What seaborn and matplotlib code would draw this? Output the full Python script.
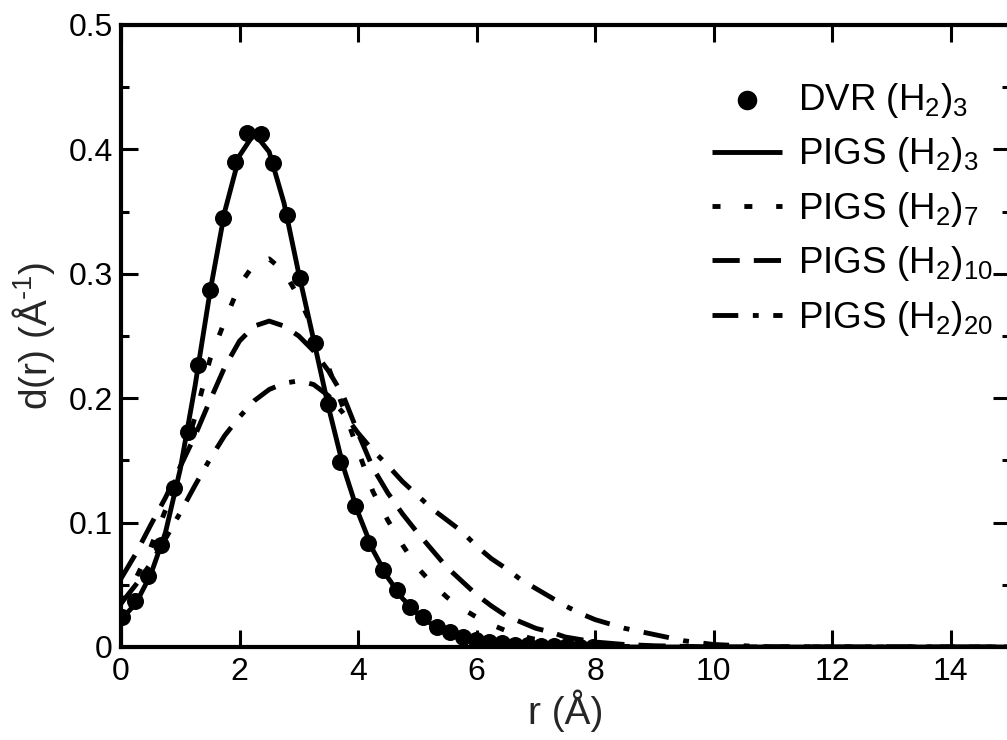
import matplotlib
matplotlib.use("Agg")
import matplotlib.pyplot as plt
from matplotlib.ticker import MultipleLocator, FixedLocator
import seaborn as sns

# DVR pair distribution for (H2)3
dvr_r = [0.02, 0.24, 0.46, 0.68, 0.90, 1.13, 1.30, 1.50, 1.72, 1.92, 2.12, 2.37,
         2.56, 2.80, 3.02, 3.27, 3.49, 3.69, 3.95, 4.17, 4.42, 4.65, 4.87, 5.09,
         5.33, 5.55, 5.77, 5.99, 6.21, 6.43, 6.65, 6.87, 7.09, 7.31, 7.53, 7.75, 7.97]
dvr_d = [0.024, 0.037, 0.057, 0.082, 0.128, 0.173, 0.227, 0.287, 0.345, 0.390, 0.413, 0.412,
         0.389, 0.347, 0.297, 0.244, 0.195, 0.149, 0.113, 0.084, 0.062, 0.046, 0.032, 0.024,
         0.016, 0.012, 0.008, 0.006, 0.004, 0.003, 0.002, 0.0015, 0.001, 0.0007, 0.0005, 0.0003, 0.0002]

# PIGS pair distributions on a common r grid (Angstrom)
r_grid = [0.0, 0.25, 0.5, 0.75, 1.0, 1.25, 1.5, 1.75, 2.0, 2.25, 2.5, 2.75, 3.0, 3.25,
          3.5, 3.75, 4.0, 4.25, 4.5, 4.75, 5.0, 5.25, 5.5, 5.75, 6.0, 6.25, 6.5, 6.75,
          7.0, 7.25, 7.5, 7.75, 8.0, 8.5, 9.0, 9.5, 10.0, 11.0, 12.0, 13.0, 14.0, 15.0]
pigs_3 = [0.022, 0.035, 0.058, 0.092, 0.143, 0.210, 0.285, 0.350, 0.395, 0.413, 0.398, 0.357,
          0.300, 0.247, 0.193, 0.145, 0.108, 0.078, 0.056, 0.039, 0.027, 0.018, 0.012, 0.008,
          0.005, 0.003, 0.002, 0.0015, 0.001, 0.0007, 0.0005, 0.0003, 0.0002, 0.0, 0.0, 0.0,
          0.0, 0.0, 0.0, 0.0, 0.0, 0.0]
pigs_7 = [0.035, 0.055, 0.080, 0.110, 0.145, 0.185, 0.231, 0.262, 0.291, 0.308, 0.312, 0.302,
          0.281, 0.255, 0.225, 0.192, 0.158, 0.125, 0.102, 0.082, 0.064, 0.051, 0.040, 0.031,
          0.024, 0.018, 0.013, 0.009, 0.006, 0.004, 0.003, 0.002, 0.001, 0.0005, 0.0, 0.0,
          0.0, 0.0, 0.0, 0.0, 0.0, 0.0]
pigs_10 = [0.055, 0.075, 0.098, 0.120, 0.145, 0.170, 0.198, 0.225, 0.246, 0.258, 0.262, 0.258,
           0.250, 0.238, 0.222, 0.202, 0.172, 0.144, 0.124, 0.107, 0.092, 0.078, 0.064, 0.053,
           0.042, 0.033, 0.025, 0.020, 0.015, 0.012, 0.008, 0.006, 0.004, 0.002, 0.001, 0.0005,
           0.0, 0.0, 0.0, 0.0, 0.0, 0.0]
pigs_20 = [0.035, 0.050, 0.067, 0.087, 0.108, 0.130, 0.151, 0.170, 0.185, 0.198, 0.207, 0.212,
           0.214, 0.211, 0.202, 0.188, 0.172, 0.158, 0.146, 0.133, 0.122, 0.111, 0.102, 0.093,
           0.081, 0.071, 0.063, 0.054, 0.047, 0.040, 0.033, 0.027, 0.022, 0.015, 0.010, 0.005,
           0.002, 0.0, 0.0, 0.0, 0.0, 0.0]

labels = ["DVR (H$_2$)$_3$", "PIGS (H$_2$)$_3$", "PIGS (H$_2$)$_7$",
          "PIGS (H$_2$)$_{10}$", "PIGS (H$_2$)$_{20}$"]
x_ticks = [0, 2, 4, 6, 8, 10, 12, 14]
y_ticks = [0.0, 0.1, 0.2, 0.3, 0.4, 0.5]
y_ticklabels = ["0", "0.1", "0.2", "0.3", "0.4", "0.5"]

sns.set_theme(style="ticks")
plt.rcParams.update({
    "font.family": ["Liberation Sans", "DejaVu Sans"],
    "mathtext.fontset": "custom",
    "mathtext.rm": "Liberation Sans",
    "mathtext.it": "Liberation Sans:italic",
    "mathtext.default": "regular",
    "axes.edgecolor": "black",
    "axes.linewidth": 3.0,
    "text.color": "black",
    "xtick.color": "black",
    "ytick.color": "black",
})

fig = plt.figure(figsize=(10.07, 7.40), dpi=100)
ax = fig.add_axes([121 / 1007, 93 / 740, 889 / 1007, 622 / 740])

lw = 3.5
sns.lineplot(x=r_grid, y=pigs_3, ax=ax, color="black", lw=lw, linestyle="-", errorbar=None)
sns.lineplot(x=r_grid, y=pigs_7, ax=ax, color="black", lw=lw,
             linestyle=(0, (1.65, 4.9)), errorbar=None)
sns.lineplot(x=r_grid, y=pigs_10, ax=ax, color="black", lw=lw,
             linestyle=(0, (5.6, 2.9)), errorbar=None)
sns.lineplot(x=r_grid, y=pigs_20, ax=ax, color="black", lw=lw,
             linestyle=(0, (5.3, 3.0, 1.2, 3.0)), errorbar=None)
sns.scatterplot(x=dvr_r, y=dvr_d, ax=ax, color="black", s=150, linewidth=0, zorder=3)

for ln in ax.lines:
    ln.set_dash_capstyle("butt")
    ln.set_solid_capstyle("butt")

ax.set_xlim(0, 15)
ax.set_ylim(0, 0.5)
ax.xaxis.set_major_locator(FixedLocator(x_ticks))
ax.set_xticklabels([str(t) for t in x_ticks])
ax.yaxis.set_major_locator(FixedLocator(y_ticks))
ax.set_yticklabels(y_ticklabels)
ax.yaxis.set_minor_locator(MultipleLocator(0.05))

ax.tick_params(which="both", direction="in", top=True, right=True, width=2.2)
ax.tick_params(which="major", length=12)
ax.tick_params(which="minor", length=6)
ax.tick_params(axis="x", which="major", labelsize=23, pad=7)
ax.tick_params(axis="y", which="major", labelsize=23, pad=6)

ax.set_xlabel("r (Å)", fontsize=28, labelpad=2)
ax.set_ylabel("d(r) (Å$^{\\text{-1}}$)", fontsize=28, labelpad=8)

handles = [ax.collections[0]] + list(ax.lines[:4])
leg = ax.legend(handles=handles, labels=labels, frameon=False, fontsize=26.5,
                loc="upper left", bbox_to_anchor=(712 / 1007, 1 - 81 / 740),
                bbox_transform=fig.transFigure, handlelength=1.9, handletextpad=0.45,
                labelspacing=0.42, borderpad=0, borderaxespad=0, markerscale=1.15)

fig.savefig("out.png", dpi=100)
